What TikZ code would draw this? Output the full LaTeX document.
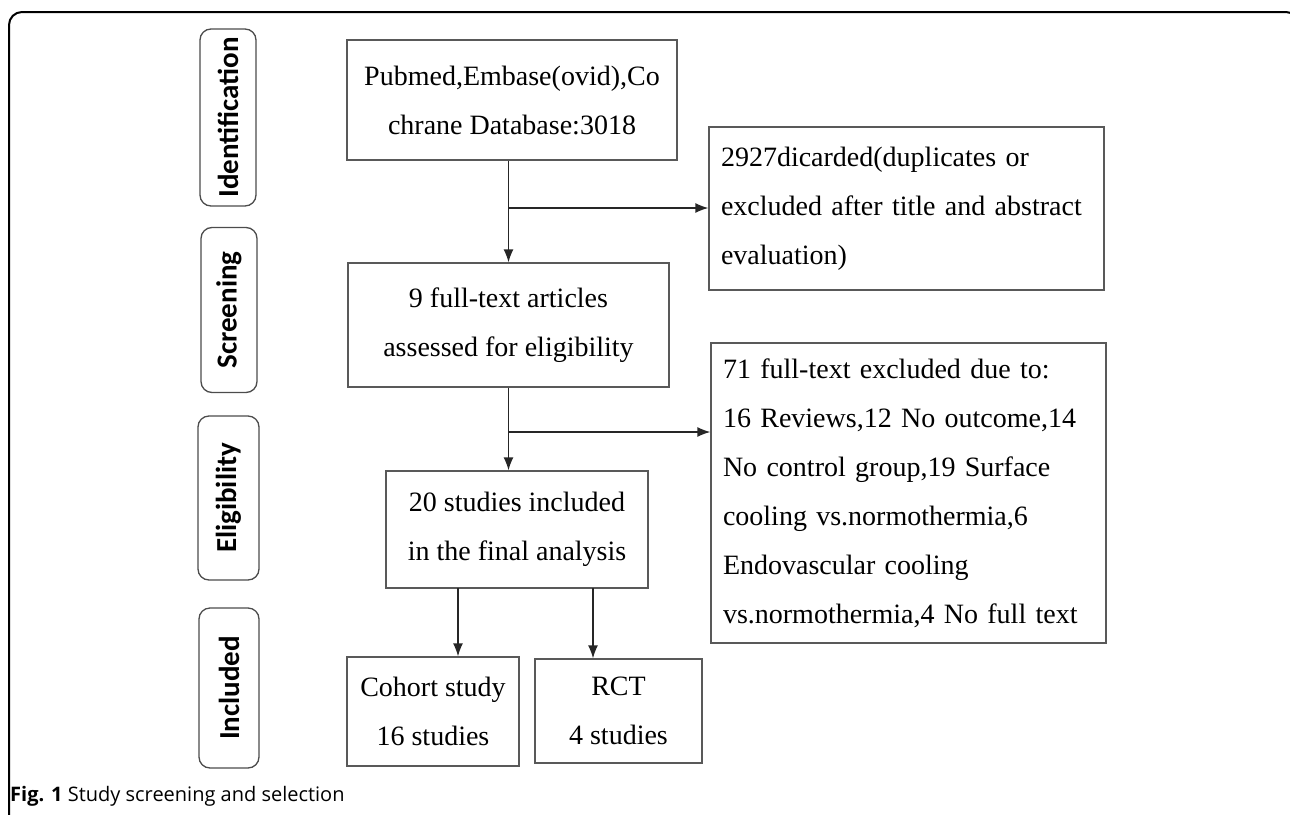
\documentclass[tikz,border=0pt]{standalone}
\usepackage{fontspec}
\setmainfont{Liberation Serif}
\newfontfamily\stagefont{Carlito}
\newfontfamily\capfont{Open Sans}
\usetikzlibrary{positioning}
\usetikzlibrary{arrows.meta}

\tikzset{
	box/.style={draw=black!65, line width=1.3pt, inner sep=0pt, align=center,
		font=\fontsize{28}{49}\selectfont},
	sidebox/.style={box, text width=371pt, inner xsep=12pt, align=left},
	stage/.style={draw=black!70, line width=1.3pt, rounded corners=11pt, rotate=90,
		inner sep=0pt, font=\stagefont\bfseries\fontsize{29}{30}\selectfont},
	arr/.style={-{Latex[length=13pt,width=10pt]}, line width=1.3pt, draw=black!85},
}

\begin{document}
\begin{tikzpicture}[x=1pt, y=-1pt]
				\useasboundingbox (0,0) rectangle (1290,814);
				%Frame
				\draw[line width=2pt, rounded corners=13pt] (9,830) -- (9,12) -- (1299,12) -- (1299,60);
				\node[anchor=west, inner sep=0pt, font=\capfont\fontsize{20}{22}\selectfont] (caption) at (10,796) {\textbf{Fig. 1} Study screening and selection};

				%Stages
				\node[stage, minimum width=177pt, minimum height=56pt] (ident) at (228,117.5) {Identification};
				\node[stage, minimum width=165pt, minimum height=56pt] (screening) at (229,310) {Screening};
				\node[stage, minimum width=164pt, minimum height=61pt] (elig) at (228.5,498) {Eligibility};
				\node[stage, minimum width=160pt, minimum height=60pt] (incl) at (229,688) {Included};

				%Nodes
				\node[box, minimum width=330pt, minimum height=120pt] (search) at (512,100) {Pubmed,Embase(ovid),Co\\chrane Database:3018};
				\node[sidebox, minimum height=163pt] (discard) at (906.5,208.5) {2927dicarded(duplicates or\\excluded after title and abstract\\evaluation)};
				\node[box, minimum width=321pt, minimum height=124pt] (fulltext) at (508.5,325) {9 full-text articles\\assessed for eligibility};
				\node[sidebox, minimum height=300pt] (exclude) at (908.5,493) {71 full-text excluded due to:\\16 Reviews,12 No outcome,14\\No control group,19 Surface\\cooling vs.normothermia,6\\Endovascular cooling\\vs.normothermia,4 No full text};
				\node[box, minimum width=262pt, minimum height=117pt] (final) at (517,529.5) {20 studies included\\in the final analysis};
				\node[box, minimum width=172pt, minimum height=109pt] (cohort) at (433,711.5) {Cohort study\\16 studies};
				\node[box, minimum width=167pt, minimum height=104pt] (rct) at (618.5,711) {RCT\\4 studies};
				\coordinate      (split1) 	at 	(509,208);
				\coordinate      (split2) 	at 	(509,432);
				\coordinate      (out1) 	at 	(458,588);
				\coordinate      (out2) 	at 	(593,588);

				%Lines
				\draw[arr] (fulltext.north |- search.south) -- (fulltext.north);
				\draw[arr] (split1) -- (split1 -| discard.west);
				\draw[arr] (fulltext.south) -- (fulltext.south |- final.north);
				\draw[arr] (split2) -- (split2 -| exclude.west);
				\draw[arr] (out1) -- (out1 |- cohort.north);
				\draw[arr] (out2) -- (out2 |- rct.north);

		\end{tikzpicture}
\end{document}
